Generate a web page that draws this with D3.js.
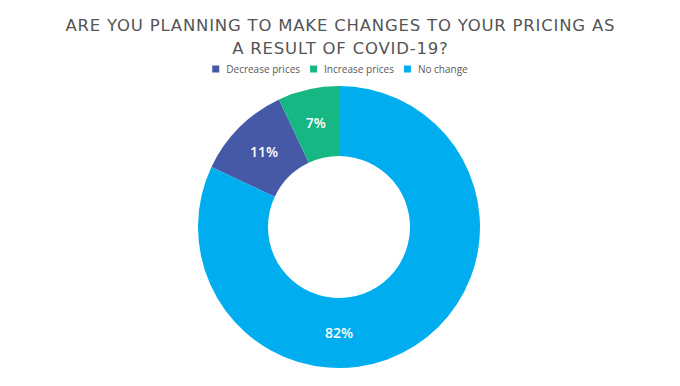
<!DOCTYPE html>
<html>
<head>
<meta charset="utf-8">
<script src="https://cdn.jsdelivr.net/npm/d3@7"></script>
<style>
  body { margin: 0; background: #fff; }
  svg { display: block; }
</style>
</head>
<body>
<div id="chart"></div>
<script>
const width = 680, height = 386;

const titleLines = ["ARE YOU PLANNING TO MAKE CHANGES TO YOUR PRICING AS", "A RESULT OF COVID-19?"];
const categories = ["Decrease prices", "Increase prices", "No change"];
const values = [11, 7, 82];
const colors = ["#4659a7", "#17b784", "#00aeef"];
// order the slices are laid out, going anticlockwise from 12 o'clock
const sliceOrder = ["Increase prices", "Decrease prices", "No change"];

const svg = d3.select('#chart')
    .append('svg')
    .attr('width', width)
    .attr('height', height);

// Title
const title = svg.append('g')
    .selectAll('text')
    .data(titleLines)
    .join('text')
    .attr('x', width / 2)
    .attr('y', (d, i) => 31 + i * 23)
    .attr('text-anchor', 'middle')
    .attr('font-family', 'DejaVu Sans, sans-serif')
    .attr('font-size', 16.5)
    .attr('fill', '#555')
    .text(d => d);

// nudge the letter spacing so the first line is ~550px wide, like the original font
const w0 = title.node().getComputedTextLength();
const spacing = (550 - w0) / titleLines[0].length;
title.attr('letter-spacing', spacing.toFixed(2) + 'px')
    .attr('dx', (spacing / 2).toFixed(2));

// Legend
const legend = svg.append('g').attr('font-family', 'Open Sans, sans-serif').attr('font-size', 10);
let lx = 0;
const items = legend.selectAll('g')
    .data(categories)
    .join('g');
items.append('rect')
    .attr('width', 7)
    .attr('height', 7)
    .attr('y', -7.5)
    .attr('fill', (d, i) => colors[i]);
items.append('text')
    .attr('x', 14)
    .attr('y', 0)
    .attr('fill', '#595959')
    .text(d => d);
items.each(function () {
    const g = d3.select(this);
    g.attr('transform', `translate(${lx},73)`);
    lx += 14 + g.select('text').node().getComputedTextLength() + 10;
});
lx -= 10;
legend.attr('transform', `translate(${(width - lx) / 2},0)`);

// Donut
const data = categories.map((c, i) => ({ name: c, value: values[i], color: colors[i] }));
const pie = d3.pie()
    .value(d => d.value)
    .sort((a, b) => sliceOrder.indexOf(a.name) - sliceOrder.indexOf(b.name))
    .startAngle(0)
    .endAngle(-2 * Math.PI);

const outerR = 141, innerR = 71;
const midR = (innerR + outerR) / 2;
const arc = d3.arc().innerRadius(innerR).outerRadius(outerR);

const donut = svg.append('g').attr('transform', 'translate(339,227)');
const arcs = pie(data);

donut.selectAll('path')
    .data(arcs)
    .join('path')
    .attr('d', arc)
    .attr('fill', d => d.data.color);

// labels sit at the middle of each slice; a slice bigger than half gets its label at the bottom
function labelPos(d) {
    const a = (d.endAngle - d.startAngle) < -Math.PI ? -Math.PI : (d.startAngle + d.endAngle) / 2;
    return [midR * Math.sin(a), -midR * Math.cos(a)];
}

donut.selectAll('text')
    .data(arcs)
    .join('text')
    .attr('transform', d => `translate(${labelPos(d)})`)
    .attr('text-anchor', 'middle')
    .attr('dy', '0.35em')
    .attr('font-family', 'Open Sans, sans-serif')
    .attr('font-weight', 600)
    .attr('font-size', 14)
    .attr('fill', '#fff')
    .text(d => d.data.value + '%');
</script>
</body>
</html>
